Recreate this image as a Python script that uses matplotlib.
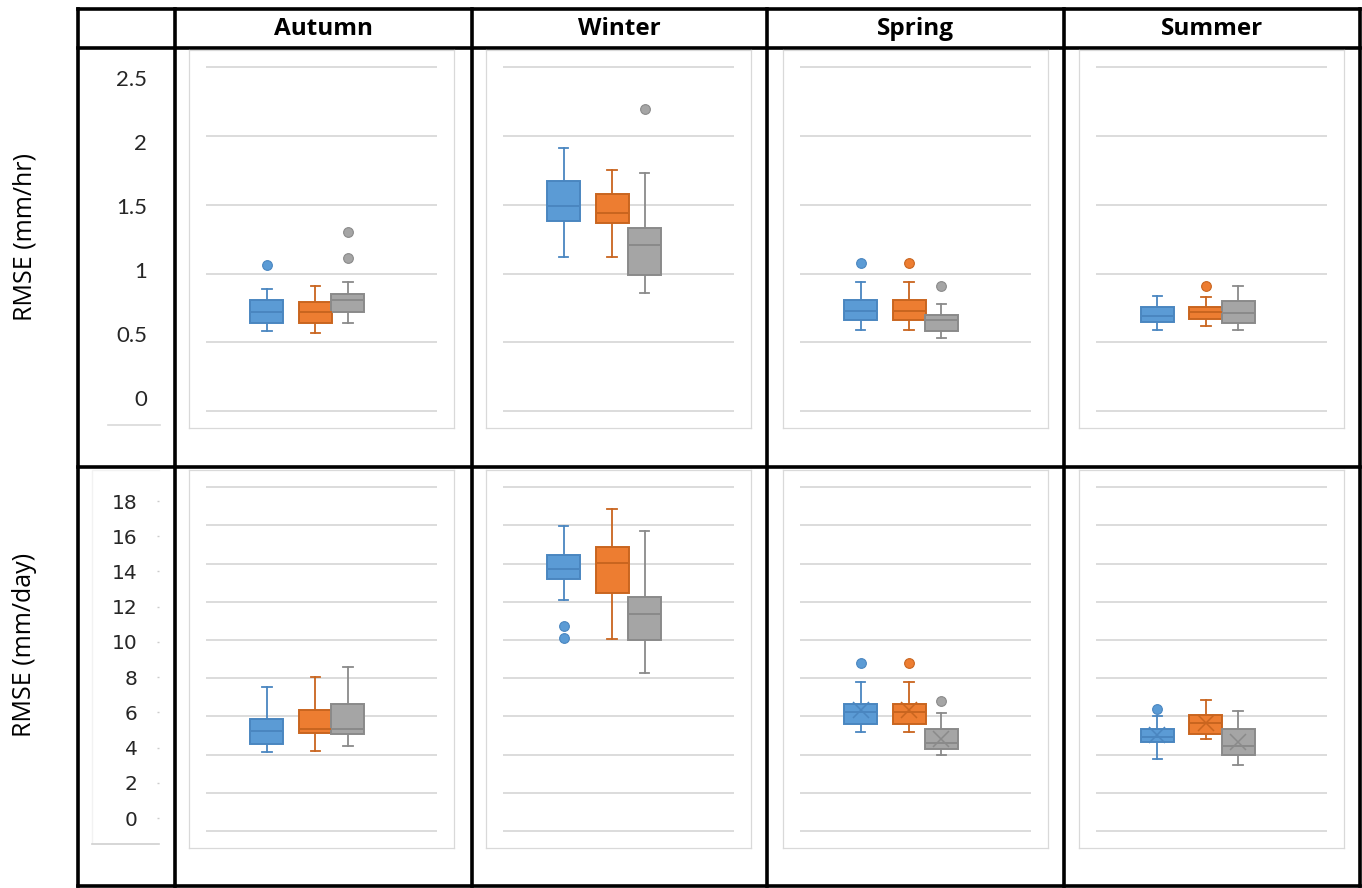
import matplotlib
matplotlib.use('Agg')
import matplotlib.pyplot as plt

# ---- data -----------------------------------------------------------------
seasons = ['Autumn', 'Winter', 'Spring', 'Summer']
series_fill = ['#5B9BD5', '#ED7D31', '#A5A5A5']
series_edge = ['#4A86C0', '#C9651F', '#8A8A8A']

# hourly RMSE (mm/hr): rows = seasons, cols = series
hr_whislo = [[0.58, 0.57, 0.64], [1.12, 1.12, 0.86], [0.59, 0.59, 0.53], [0.59, 0.62, 0.59]]
hr_q1 = [[0.64, 0.64, 0.72], [1.38, 1.37, 0.99], [0.66, 0.66, 0.58], [0.65, 0.67, 0.64]]
hr_med = [[0.72, 0.72, 0.81], [1.49, 1.44, 1.21], [0.73, 0.73, 0.66], [0.69, 0.72, 0.71]]
hr_q3 = [[0.81, 0.79, 0.85], [1.67, 1.58, 1.33], [0.81, 0.81, 0.70], [0.76, 0.76, 0.80]]
hr_whishi = [[0.89, 0.91, 0.94], [1.91, 1.75, 1.73], [0.94, 0.94, 0.78], [0.84, 0.83, 0.91]]
hr_fliers = [[[1.06], [], [1.11, 1.30]],
             [[], [], [2.20]],
             [[1.08], [1.08], [0.91]],
             [[], [0.91], []]]

# daily RMSE (mm/day)
day_whislo = [[4.15, 4.21, 4.45], [12.10, 10.07, 8.27], [5.18, 5.18, 4.00], [3.77, 4.84, 3.47]]
day_q1 = [[4.57, 5.12, 5.06], [13.22, 12.45, 10.02], [5.60, 5.60, 4.31], [4.66, 5.10, 4.00]]
day_med = [[5.22, 5.36, 5.34], [13.74, 14.05, 11.36], [6.25, 6.25, 4.62], [4.94, 5.67, 4.45]]
day_q3 = [[5.88, 6.32, 6.65], [14.44, 14.87, 12.27], [6.65, 6.65, 5.33], [5.33, 6.08, 5.34]]
day_whishi = [[7.56, 8.07, 8.59], [15.96, 16.85, 15.70], [7.80, 7.80, 6.20], [6.04, 6.86, 6.27]]
day_fliers = [[[], [], []],
              [[10.09, 10.75], [], []],
              [[8.82], [8.82], [6.81]],
              [[6.37], [], []]]
day_means = [None, None, [6.34, 6.34, 4.82], [5.03, 5.64, 4.68]]

hr_ticks = [0, 0.5, 1, 1.5, 2, 2.5]
hr_ticklabels = ['0', '0.5', '1', '1.5', '2', '2.5']
day_ticks = list(range(0, 20, 2))

# ---- layout (pixels) ------------------------------------------------------
W, H = 1362, 888
fig = plt.figure(figsize=(W / 100, H / 100), dpi=100)


def px_axes(x0, y0, x1, y1):
    return fig.add_axes([x0 / W, 1 - y1 / H, (x1 - x0) / W, (y1 - y0) / H])


bg = px_axes(0, 0, W, H)
bg.set_xlim(0, W)
bg.set_ylim(H, 0)
bg.axis('off')

col_x = [78, 174.7, 471.5, 767, 1064, 1359.5]
row_y = [9, 48.5, 467, 885.5]
for x in col_x:
    bg.plot([x, x], [row_y[0], row_y[-1]], color='black', lw=2.6, solid_capstyle='projecting')
for y in row_y:
    bg.plot([col_x[0], col_x[-1]], [y, y], color='black', lw=2.6, solid_capstyle='projecting')

for j, name in enumerate(seasons):
    bg.text((col_x[j + 1] + col_x[j + 2]) / 2, 29, name, ha='center', va='center',
            fontsize=17.5, fontweight='bold', family='Open Sans')

bg.text(25, 237, 'RMSE (mm/hr)', rotation=90, ha='center', va='center',
        fontsize=18, family='Open Sans')
bg.text(25, 645, 'RMSE (mm/day)', rotation=90, ha='center', va='center',
        fontsize=18, family='Open Sans')

# faint borders left over around the tick-label columns
bg.plot([108, 160], [425, 425], color='#d9d9d9', lw=1.2)
bg.plot([92, 92, 159], [843, 470, 470], color='#f2f2f2', lw=1)
bg.plot([92, 159], [843.5, 843.5], color='#d0d0d0', lw=1.2)


def y_limits(gmin, gmax, g_top, g_bot, f_top, f_bot):
    unit = (g_bot - g_top) / (gmax - gmin)
    return gmin - (f_bot - g_bot) / unit, gmax + (g_top - f_top) / unit


rows = [
    dict(lo=hr_whislo, q1=hr_q1, med=hr_med, q3=hr_q3, hi=hr_whishi, fl=hr_fliers,
         means=[None] * 4, grid=hr_ticks, g_top=67.3, g_bot=411, f_top=50, f_bot=428),
    dict(lo=day_whislo, q1=day_q1, med=day_med, q3=day_q3, hi=day_whishi, fl=day_fliers,
         means=day_means, grid=day_ticks, g_top=487.3, g_bot=831, f_top=470, f_bot=848),
]

FRAME_X0, FRAME_W, COL_PITCH = 189, 265, 296.8
positions = [0.294, 0.477, 0.599]
box_w = 0.1245

for r, row in enumerate(rows):
    ylim = y_limits(row['grid'][0], row['grid'][-1], row['g_top'], row['g_bot'],
                    row['f_top'], row['f_bot'])
    for j in range(len(seasons)):
        x0 = FRAME_X0 + j * COL_PITCH
        ax = px_axes(x0, row['f_top'], x0 + FRAME_W, row['f_bot'])
        ax.set_xlim(0, 1)
        ax.set_ylim(*ylim)
        ax.set_xticks([])
        ax.set_yticks([])
        for sp in ax.spines.values():
            sp.set_color('#d9d9d9')
            sp.set_linewidth(0.9)
        ax.hlines(row['grid'], 17 / FRAME_W, 248 / FRAME_W, color='#d9d9d9', lw=1.3, zorder=0.5)

        means = row['means'][j]
        stats = []
        for k in range(3):
            s = dict(whislo=row['lo'][j][k], q1=row['q1'][j][k], med=row['med'][j][k],
                     q3=row['q3'][j][k], whishi=row['hi'][j][k], fliers=row['fl'][j][k])
            if means is not None:
                s['mean'] = means[k]
            stats.append(s)

        art = ax.bxp(stats, positions=positions, widths=box_w, capwidths=0.036,
                     patch_artist=True, showmeans=means is not None, manage_ticks=False)
        for k in range(3):
            fc, ec = series_fill[k], series_edge[k]
            art['boxes'][k].set(facecolor=fc, edgecolor=ec, linewidth=1.4)
            art['medians'][k].set(color=ec, linewidth=1.4)
            for a in art['whiskers'][2 * k:2 * k + 2] + art['caps'][2 * k:2 * k + 2]:
                a.set(color=ec, linewidth=1.3)
            art['fliers'][k].set(marker='o', markersize=7, markerfacecolor=fc,
                                 markeredgecolor=ec, markeredgewidth=0.8)
            if means is not None:
                art['means'][k].set(marker='x', markersize=12, markeredgecolor=ec,
                                    markeredgewidth=1.1)

# tick-label columns
tl = px_axes(150, 50, 160, 428)
tl.set_ylim(*y_limits(0, 2.5, 78, 398, 50, 428))
tl.set_yticks(hr_ticks)
tl.set_yticklabels(hr_ticklabels, family='Lato', fontsize=16, color='#262626')
tl.tick_params(axis='y', length=0, pad=2)
tl.set_xticks([])
for sp in tl.spines.values():
    sp.set_visible(False)
tl.patch.set_alpha(0)

tl2 = px_axes(159, 470, 160, 844)
tl2.set_ylim(*y_limits(0, 18, 501, 818, 470, 844))
tl2.set_yticks(day_ticks)
tl2.set_yticklabels([str(t) for t in day_ticks], family='DejaVu Sans', fontsize=14.5,
                    color='#262626')
tl2.tick_params(axis='y', length=1.5, width=1, color='#cccccc', pad=14)
tl2.set_xticks([])
for sp in tl2.spines.values():
    sp.set_visible(False)
tl2.patch.set_alpha(0)

fig.savefig('out.png', dpi=100)
